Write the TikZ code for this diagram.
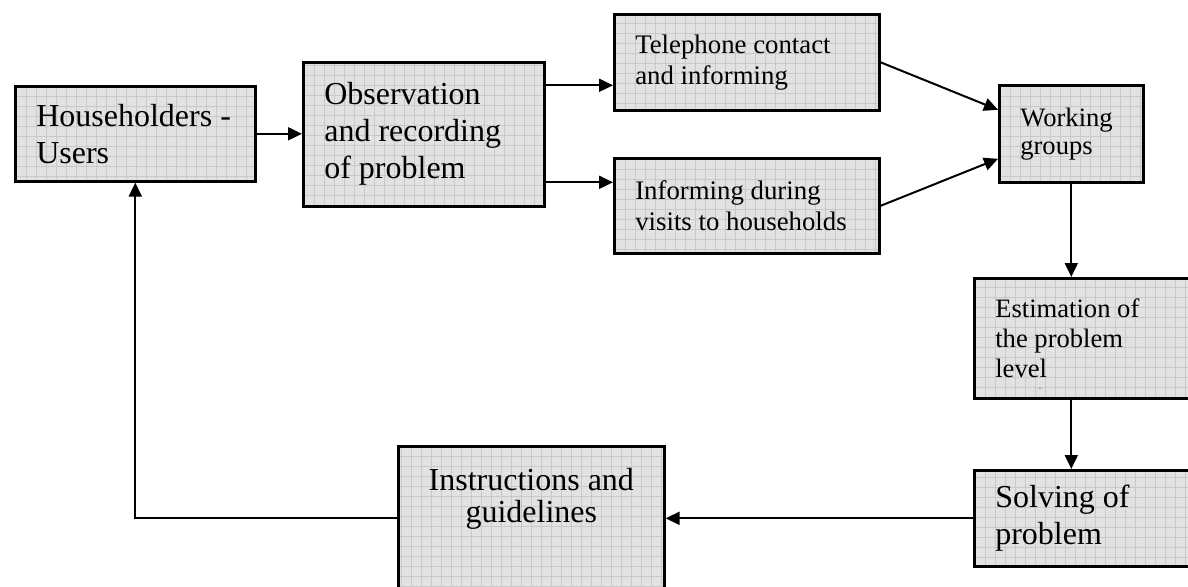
\documentclass[tikz,border=0pt]{standalone}
\usepackage{fontspec}
\setmainfont{Liberation Serif}
\usepackage{xcolor}
\usetikzlibrary{positioning,arrows.meta}
\definecolor{boxgray}{HTML}{E2E2E2}
\definecolor{gridgray}{HTML}{C9C9C9}
\newcommand{\bigtxt}{\fontsize{32}{37}\selectfont}
\newcommand{\smalltxt}{\fontsize{26.8}{31}\selectfont}
\newcommand{\midtxt}{\fontsize{26.6}{30}\selectfont}

\begin{document}
\begin{tikzpicture}[x=1pt,y=1pt,
        blok/.style={draw,line width=2.6pt,fill=boxgray,anchor=north west,
          inner xsep=21pt,inner ysep=0pt,align=flush left,
          path picture={\draw[gridgray,line width=0.6pt]
            (path picture bounding box.south west) grid[step=10pt]
            (path picture bounding box.north east);}},
        arr/.style={line width=2pt,-{Triangle[length=14pt,width=13pt]}}]
        \useasboundingbox (0,0) rectangle (1188,-586);
        \clip (0,0) rectangle (1188,-586);
        \node[blok,minimum width=240,minimum height=95,text width=198,font=\bigtxt] (hh) at (14,-85) {Householders -\\Users};
        \node[blok,minimum width=241,minimum height=144,text width=199,font=\bigtxt] (obs) at (302,-61) {Observation\\and recording\\of problem};
        \node[blok,minimum width=265,minimum height=96,text width=223,font=\smalltxt] (tel) at (613,-13) {Telephone contact\\and informing};
        \node[blok,minimum width=265,minimum height=95,text width=223,font=\smalltxt] (inf) at (613,-157) {Informing during\\visits to households};
        \node[blok,minimum width=144,minimum height=97,text width=102,font=\fontsize{26.6}{28}\selectfont] (wg) at (998,-84) {Working\\groups};
        \node[blok,minimum width=240,minimum height=120,text width=198,font=\midtxt] (est) at (973,-277) {Estimation of\\the problem\\level};
        \node[font=\fontsize{6}{6}\selectfont,inner sep=0pt] (dash) at (1040,-390) {-};
        \node[blok,minimum width=240,minimum height=96,text width=198,font=\bigtxt] (sol) at (973,-469) {Solving of\\problem};
        \node[blok,minimum width=266,minimum height=180] (ins) at (397,-445) {};
        \node[font=\fontsize{32}{32}\selectfont,align=center,anchor=north,inner sep=0pt] (instxt) at ([yshift=-23]ins.north) {Instructions and\\guidelines};
        \draw[arr] (hh.east) -- (hh.east -| obs.west);
        \draw[arr] ([yshift=49]obs.east) -- ([yshift=49]obs.east -| tel.west);
        \draw[arr] ([yshift=-48]obs.east) -- ([yshift=-48]obs.east -| inf.west);
        \draw[arr] (tel.east) -- ([yshift=24]wg.west);
        \draw[arr] (inf.east) -- ([yshift=-25]wg.west);
        \draw[arr] (wg.south) -- (wg.south |- est.north);
        \draw[arr] (est.south -| wg.south) -- (sol.north -| wg.south);
        \draw[arr] (sol.west) -- (sol.west -| ins.east);
        \draw[arr] (sol.west -| ins.west) -| (hh.south);
\end{tikzpicture}
\end{document}
